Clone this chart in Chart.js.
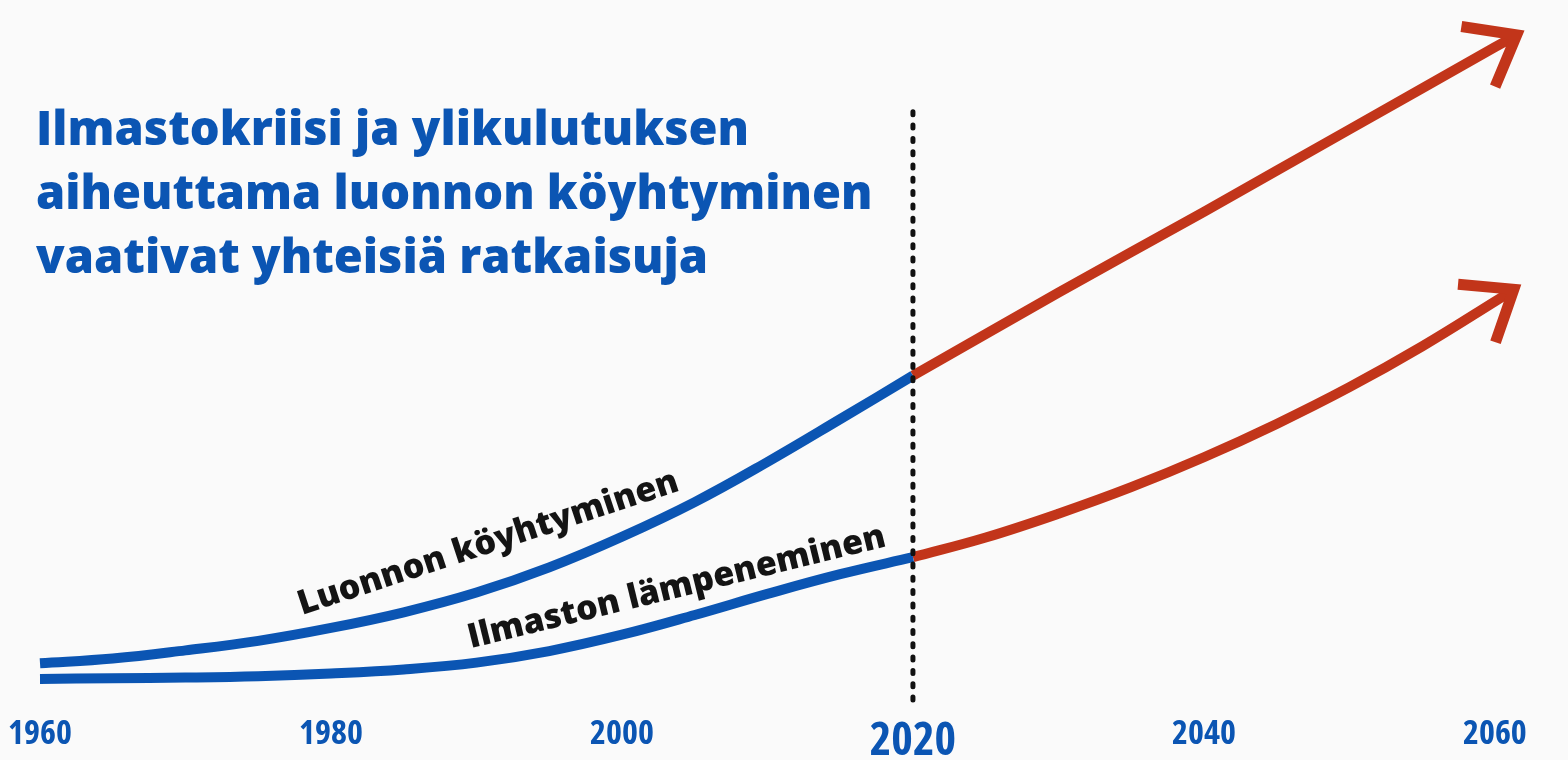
<!DOCTYPE html>
<html>
<head>
<meta charset="utf-8">
<script src="https://cdn.jsdelivr.net/npm/chart.js@4.4.1/dist/chart.umd.min.js"></script>
<style>
html,body{margin:0;padding:0;background:#fafafa;}
#wrap{width:1568px;height:760px;position:relative;}
canvas{display:block;}
</style>
</head>
<body>
<div id="wrap"><canvas id="c" width="1568" height="760"></canvas></div>
<script>
// ---- data (index values, arbitrary units 0-100) ----
const histYears = [1960, 1965, 1970, 1975, 1980, 1985, 1990, 1995, 2000, 2005, 2010, 2015, 2020];
const biodiversityLossHist = [5.4, 6.1, 7.3, 8.7, 10.6, 12.9, 15.8, 19.5, 24.0, 29.1, 35.0, 41.3, 47.7];
const warmingHist = [3.1, 3.2, 3.3, 3.5, 3.9, 4.5, 5.5, 7.2, 9.6, 12.5, 15.6, 18.5, 21.0];

const biodiversityProjYears = [2020, 2030, 2040, 2050, 2060, 2061.5];
const biodiversityLossProj = [47.7, 59.9, 71.8, 83.9, 96.0, 97.8];
const warmingProjYears = [2020, 2025, 2030, 2035, 2040, 2045, 2050, 2055, 2060, 2061.3];
const warmingProj = [21.0, 23.9, 27.4, 31.3, 35.7, 40.6, 46.0, 52.0, 58.6, 60.4];

const tickYears = [1960, 1980, 2000, 2020, 2040, 2060];
const highlightYear = 2020;
const markerYears = [2020, 2020];
const markerValues = [0, 87.5];

const titleLines = ["Ilmastokriisi ja ylikulutuksen", "aiheuttama luonnon köyhtyminen", "vaativat yhteisiä ratkaisuja"];
const seriesLabels = ["Luonnon köyhtyminen", "Ilmaston lämpeneminen"];
const seriesLabelAnchors = [[1978.0, 12.5], [1989.6, 7.6]];
const seriesLabelAngles = [18.2, 13.8];

// ---- styles ----
const BLUE = '#0b55b3';
const RED = '#c2351a';
const BG = '#fafafa';

const pts = (xs, ys) => xs.map((x, i) => ({x: x, y: ys[i]}));

const bgPlugin = {
  id: 'bg',
  beforeDraw(chart) {
    const c = chart.ctx;
    c.save();
    c.fillStyle = BG;
    c.fillRect(0, 0, chart.width, chart.height);
    c.restore();
  }
};

const arrowPlugin = {
  id: 'arrows',
  afterDatasetsDraw(chart) {
    const c = chart.ctx;
    chart.data.datasets.forEach((ds, i) => {
      if (!ds.arrowHead) return;
      const meta = chart.getDatasetMeta(i);
      const els = meta.data;
      const last = els[els.length - 1];
      const prev = els[els.length - 2];
      let dx, dy;
      if (last.cp1x !== undefined && (last.cp1x !== last.x || last.cp1y !== last.y)) {
        dx = last.x - last.cp1x; dy = last.y - last.cp1y;
      } else {
        dx = last.x - prev.x; dy = last.y - prev.y;
      }
      const back = Math.atan2(-dy, -dx);
      const len = 56, spread = 38 * Math.PI / 180;
      c.save();
      c.strokeStyle = ds.borderColor;
      c.lineWidth = 11;
      c.lineJoin = 'miter';
      c.lineCap = 'butt';
      c.miterLimit = 10;
      c.beginPath();
      c.moveTo(last.x + len * Math.cos(back + spread), last.y + len * Math.sin(back + spread));
      c.lineTo(last.x, last.y);
      c.lineTo(last.x + len * Math.cos(back - spread), last.y + len * Math.sin(back - spread));
      c.stroke();
      c.restore();
    });
  }
};

const textPlugin = {
  id: 'texts',
  afterDraw(chart) {
    const c = chart.ctx;
    const xs = chart.scales.x, ys = chart.scales.y;
    c.save();
    c.fillStyle = BLUE;
    c.font = "800 47px 'Open Sans'";
    c.textBaseline = 'alphabetic';
    c.textAlign = 'left';
    titleLines.forEach((t, i) => c.fillText(t, 36, 145 + i * 64));
    c.fillStyle = '#141414';
    c.font = "800 34px 'Open Sans'";
    seriesLabels.forEach((t, i) => {
      const px = xs.getPixelForValue(seriesLabelAnchors[i][0]);
      const py = ys.getPixelForValue(seriesLabelAnchors[i][1]);
      c.save();
      c.translate(px, py);
      c.rotate(-seriesLabelAngles[i] * Math.PI / 180);
      c.fillText(t, 0, 0);
      c.restore();
    });
    c.restore();
  }
};

const lineBase = {pointRadius: 0, borderWidth: 10, fill: false, tension: 0.4, clip: false, borderCapStyle: 'butt', borderJoinStyle: 'round'};

new Chart(document.getElementById('c'), {
  type: 'line',
  data: {
    datasets: [
      {label: 'marker', data: pts(markerYears, markerValues), borderColor: '#111', borderWidth: 5, borderDash: [3, 10.3], borderCapStyle: 'round', pointRadius: 0, fill: false, clip: false, order: -1},
      Object.assign({label: seriesLabels[0], data: pts(histYears, biodiversityLossHist), borderColor: BLUE}, lineBase),
      Object.assign({label: seriesLabels[0] + ' (ennuste)', data: pts(biodiversityProjYears, biodiversityLossProj), borderColor: RED, arrowHead: true}, lineBase),
      Object.assign({label: seriesLabels[1], data: pts(histYears, warmingHist), borderColor: BLUE}, lineBase),
      Object.assign({label: seriesLabels[1] + ' (ennuste)', data: pts(warmingProjYears, warmingProj), borderColor: RED, arrowHead: true}, lineBase)
    ]
  },
  options: {
    responsive: false,
    animation: false,
    layout: {padding: {left: 40, right: 44, top: 20, bottom: 0}},
    plugins: {legend: {display: false}, tooltip: {enabled: false}, title: {display: false}},
    scales: {
      x: {
        type: 'linear', min: 1960, max: 2062,
        afterBuildTicks: s => { s.ticks = tickYears.map(v => ({value: v})); },
        afterFit: s => { s.height = 60; s.paddingLeft = 0; s.paddingRight = 0; },
        grid: {display: false, drawTicks: false, tickLength: 0},
        border: {display: false},
        ticks: {
          padding: 14, color: BLUE, autoSkip: false, maxRotation: 0,
          callback: v => String(v),
          font: ctx => ({family: "'Open Sans'", weight: 'bold condensed', size: (ctx.tick && ctx.tick.value === highlightYear) ? 46 : 34})
        }
      },
      y: {type: 'linear', min: 0, max: 100, display: false}
    }
  },
  plugins: [bgPlugin, arrowPlugin, textPlugin]
});
</script>
</body>
</html>
